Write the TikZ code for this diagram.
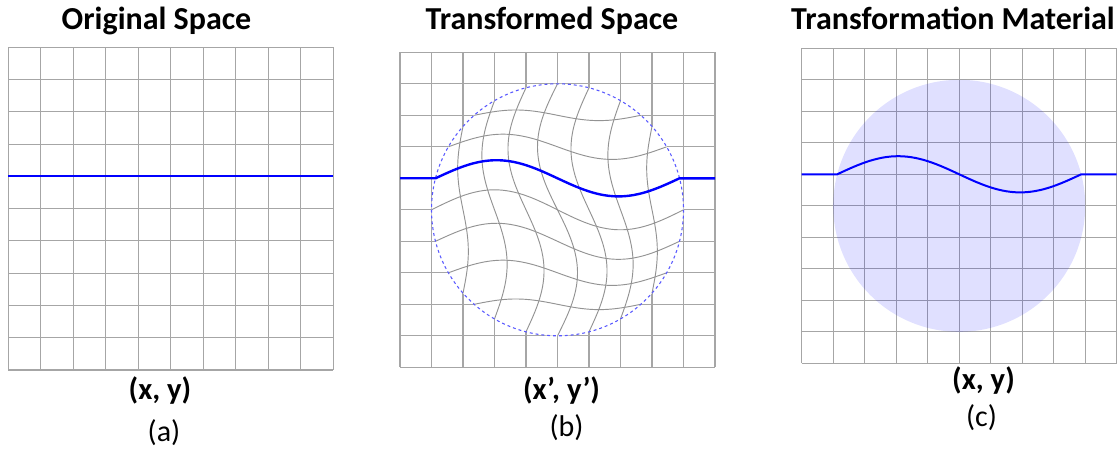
\documentclass[tikz,border=0pt]{standalone}
\usepackage{fontspec}
\setmainfont{Carlito}
\usetikzlibrary{positioning}

\begin{document}
\begin{tikzpicture}[x=0.75pt, y=-0.75pt,
  gridline/.style={draw=gray!70, line width=0.85pt},
  warpline/.style={draw=gray!85, line width=0.7pt},
  pathline/.style={draw=blue, line width=1.5pt},
  material/.style={fill=blue, fill opacity=0.12},
  boundary/.style={draw=blue!65, line width=0.8pt, dash pattern=on 2.2pt off 2.2pt},
  paneltitle/.style={font=\bfseries\fontsize{24}{28}\selectfont, anchor=base},
  coordlabel/.style={font=\bfseries\fontsize{23}{27}\selectfont},
  panellabel/.style={font=\fontsize{22.5}{26}\selectfont}]
\useasboundingbox (0,0) rectangle (1120,449);

% (a) Original Space
\foreach \i in {0,...,10} {
  \draw[gridline] (8.3+32.5*\i,47.3) -- (8.3+32.5*\i,370);
  \draw[gridline] (8.3,47.3+32.27*\i) -- (333,47.3+32.27*\i);
}
\draw[pathline] (8.3,176.4) -- (333,176.4);
\node[paneltitle] (titleA) at (156.5,29.5) {Original Space};
\node[coordlabel] (xyA) at (160,391) {(x, y)};
\node[panellabel] (capA) at (164,432.5) {(a)};

% (b) Transformed Space
\foreach \i in {0,...,10} {
  \draw[gridline] (400+31.5*\i,52.3) -- (400+31.5*\i,367.3);
  \draw[gridline] (400,52.3+31.5*\i) -- (715,52.3+31.5*\i);
}
\fill[white] (557.5,209.8) circle (126);
\begin{scope}
  \clip (557.5,209.8) circle (126);
  \foreach \j in {2,...,8} {
    \pgfmathsetmacro\dd{(\j-5)*31.5}
    \pgfmathsetmacro\hw{sqrt(15876-\dd*\dd)}
    \pgfmathsetmacro\amp{20*(1-(\dd/126)^2)^1.6}
    % warped rows
    \draw[warpline] plot[domain=0:1, samples=40, smooth]
      ({557.5-\hw+2*\hw*\x}, {209.8+\dd-\amp*sin(360*\x)});
    % warped columns
    \draw[warpline] plot[domain=0:1, samples=40, smooth]
      ({557.5+\dd-\amp*sin(360*\x)}, {209.8-\hw+2*\hw*\x});
  }
\end{scope}
\draw[boundary] (557.5,209.8) circle (126);
\draw[pathline, line width=1.8pt] (400,178.3) -- plot[domain=0:1, samples=60, smooth]
  ({435.5+244*\x}, {178.3-18.1*sin(360*\x)}) -- (715,178.3);
\node[paneltitle] (titleB) at (552,29.5) {Transformed Space};
\node[coordlabel] (xyB) at (561.5,391) {(x’, y’)};
\node[panellabel] (capB) at (566.5,427.5) {(b)};

% (c) Transformation Material
\foreach \i in {0,...,10} {
  \draw[gridline] (801.7+31.5*\i,48.3) -- (801.7+31.5*\i,363.3);
  \draw[gridline] (801.7,48.3+31.5*\i) -- (1116.7,48.3+31.5*\i);
}
\fill[material] (959.2,205.8) circle (126);
\draw[pathline] (801.7,174.3) -- plot[domain=0:1, samples=60, smooth]
  ({837.2+244*\x}, {174.3-18.1*sin(360*\x)}) -- (1116.7,174.3);
\node[paneltitle] (titleC) at (953,29.5) {Transformation Material};
\node[coordlabel] (xyC) at (983.5,381) {(x, y)};
\node[panellabel] (capC) at (981.5,417.5) {(c)};
\end{tikzpicture}
\end{document}
